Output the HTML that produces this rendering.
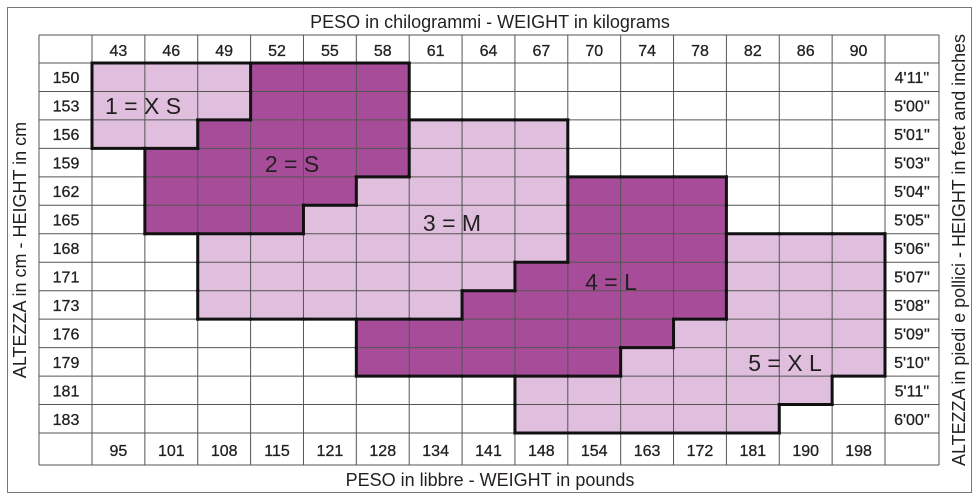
<!DOCTYPE html>
<html><head><meta charset="utf-8"><style>
html,body{margin:0;padding:0;background:#fff;width:979px;height:502px;overflow:hidden}
svg text{font-family:"Liberation Sans",sans-serif;fill:#231f20}
</style></head><body>
<svg id="s" width="979" height="502" xmlns="http://www.w3.org/2000/svg"></svg>
<script>
const X0=92,CW=(885-92)/15,Y0=63,RH=(433-63)/13;
const R=[];for(let r=0;r<13;r++)R.push(new Array(15).fill(0));
function set(r,a,b,v){for(let c=a;c<=b;c++)R[r][c]=v;}
set(0,0,2,1);set(1,0,2,1);set(2,0,1,1);
set(0,3,5,2);set(1,3,5,2);set(2,2,5,2);set(3,1,5,2);set(4,1,4,2);set(5,1,3,2);
set(2,6,8,3);set(3,6,8,3);set(4,5,8,3);set(5,4,8,3);set(6,2,8,3);set(7,2,7,3);set(8,2,6,3);
set(4,9,11,4);set(5,9,11,4);set(6,9,11,4);set(7,8,11,4);set(8,7,11,4);set(9,5,10,4);set(10,5,9,4);
set(6,12,14,5);set(7,12,14,5);set(8,12,14,5);set(9,11,14,5);set(10,10,14,5);set(11,8,13,5);set(12,8,12,5);
const col={0:'#fff',1:'#e0bedd',3:'#e0bedd',5:'#e0bedd',2:'#a64c98',4:'#a64c98'};
let h='';
h+='<rect x="7.5" y="7.5" width="964" height="485" fill="none" stroke="#777" stroke-width="1"/>';
for(let r=0;r<13;r++)for(let c=0;c<15;c++)h+=`<rect x="${X0+c*CW}" y="${Y0+r*RH}" width="${CW}" height="${RH}" fill="${col[R[r][c]]}"/>`;
const G='#555';
for(let c=0;c<=15;c++){const x=X0+c*CW;h+=`<line x1="${x}" y1="35" x2="${x}" y2="465" stroke="${G}" stroke-width="1"/>`;}
h+=`<line x1="39" y1="35" x2="39" y2="465" stroke="${G}"/><line x1="939" y1="35" x2="939" y2="465" stroke="${G}"/>`;
for(let r=0;r<=13;r++){const y=Y0+r*RH;h+=`<line x1="39" y1="${y}" x2="939" y2="${y}" stroke="${G}"/>`;}
h+=`<line x1="39" y1="35" x2="939" y2="35" stroke="${G}"/><line x1="39" y1="465" x2="939" y2="465" stroke="${G}"/>`;
const g=(r,c)=>(r<0||r>12||c<0||c>14)?0:R[r][c];
for(let r=0;r<=13;r++)for(let c=0;c<15;c++){const a=g(r-1,c),b=g(r,c);if(a!==b){const y=Y0+r*RH;h+=`<line x1="${X0+c*CW-1.5}" y1="${y}" x2="${X0+(c+1)*CW+1.5}" y2="${y}" stroke="#111" stroke-width="3"/>`;}}
for(let c=0;c<=15;c++)for(let r=0;r<13;r++){const a=g(r,c-1),b=g(r,c);if(a!==b){const x=X0+c*CW;h+=`<line x1="${x}" y1="${Y0+r*RH-1.5}" x2="${x}" y2="${Y0+(r+1)*RH+1.5}" stroke="#111" stroke-width="3"/>`;}}
const kg=[43,46,49,52,55,58,61,64,67,70,74,78,82,86,90];
const lb=[95,101,108,115,121,128,134,141,148,154,163,172,181,190,198];
const cm=[150,153,156,159,162,165,168,171,173,176,179,181,183];
const ft=["4'11''","5'00''","5'01''","5'03''","5'04''","5'05''","5'06''","5'07''","5'08''","5'09''","5'10''","5'11''","6'00''"];
for(let c=0;c<15;c++){const x=X0+(c+.5)*CW;h+=`<text x="${x}" y="56" font-size="16" text-anchor="middle" stroke="#231f20" stroke-width="0.3">${kg[c]}</text><text x="${x}" y="456" font-size="16" text-anchor="middle" stroke="#231f20" stroke-width="0.3">${lb[c]}</text>`;}
for(let r=0;r<13;r++){const y=Y0+(r+.5)*RH+6;h+=`<text x="66" y="${y}" font-size="16" text-anchor="middle" stroke="#231f20" stroke-width="0.3">${cm[r]}</text><text x="912" y="${y}" font-size="16" text-anchor="middle" stroke="#231f20" stroke-width="0.3">${ft[r]}</text>`;}
h+=`<text x="490" y="28" font-size="18" text-anchor="middle">PESO in chilogrammi -  WEIGHT in kilograms</text>`;
h+=`<text x="490" y="486" font-size="18" text-anchor="middle">PESO in libbre -  WEIGHT in pounds</text>`;
h+=`<text transform="translate(26,250) rotate(-90)" font-size="18" text-anchor="middle">ALTEZZA in cm  -  HEIGHT in cm</text>`;
h+=`<text transform="translate(965,250) rotate(-90)" font-size="18" text-anchor="middle" textLength="432" lengthAdjust="spacingAndGlyphs">ALTEZZA in piedi e pollici - HEIGHT in feet and inches</text>`;
const L=[["1 = X S",143,114],["2 = S",292,172],["3 = M",452,231],["4 = L",611,290],["5 = X L",785,371]];
for(const [t,x,y] of L)h+=`<text x="${x}" y="${y}" font-size="23" text-anchor="middle">${t}</text>`;
document.getElementById('s').innerHTML=h;
</script>
</body></html>
